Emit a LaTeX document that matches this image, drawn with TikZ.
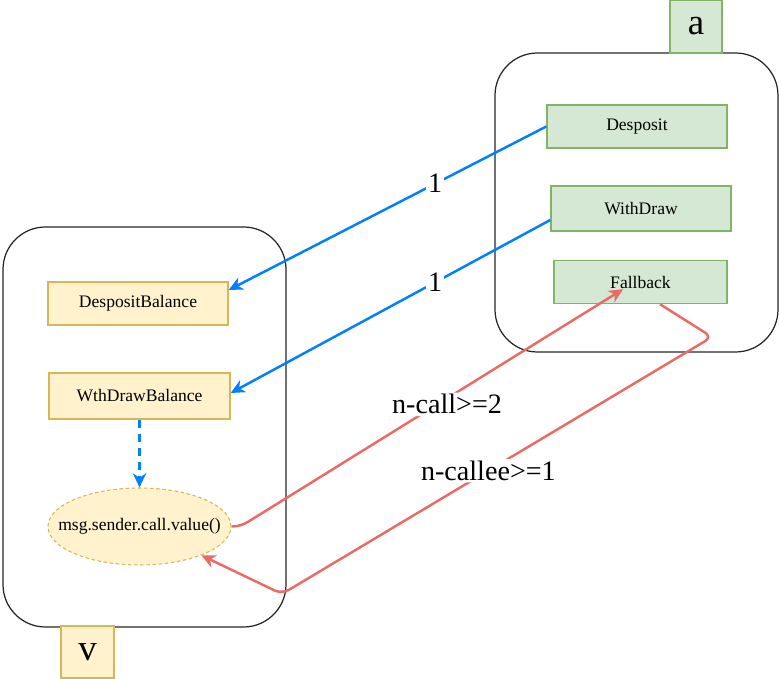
\documentclass[tikz,border=0pt]{standalone}
\usepackage{fontspec}
\setmainfont{Liberation Serif}
\usepackage{xcolor}
\usepackage{tikz}
\usetikzlibrary{shapes,arrows,arrows.meta,positioning,calc}
\definecolor{fngreen}{RGB}{213,232,212}
\definecolor{fngreenline}{RGB}{130,179,102}
\definecolor{varyellow}{RGB}{255,242,204}
\definecolor{varyellowline}{RGB}{214,182,86}
\definecolor{callblue}{RGB}{0,127,255}
\definecolor{callred}{RGB}{234,107,102}
\tikzset{
    contract/.style={rectangle, draw=black!85, line width=0.7pt, rounded corners=0.85cm, minimum width=5.66cm, inner sep=0pt},
    tag/.style={rectangle, draw, line width=0.9pt, minimum width=1.05cm, minimum height=1.05cm, inner sep=0pt, font=\fontsize{21}{23}\selectfont},
    fn/.style={rectangle, draw=fngreenline, fill=fngreen, line width=0.8pt, minimum width=3.6cm, minimum height=0.86cm, inner sep=0pt, font=\fontsize{10}{12}\selectfont},
    var/.style={rectangle, draw=varyellowline, fill=varyellow, line width=0.8pt, minimum width=3.6cm, minimum height=0.86cm, inner sep=0pt, font=\fontsize{10}{12}\selectfont},
    oval/.style={ellipse, draw=varyellowline, fill=varyellow, dash pattern=on 2pt off 1.5pt, line width=0.6pt, minimum width=3.66cm, minimum height=1.54cm, inner sep=0pt, font=\fontsize{10}{12}\selectfont},
    bline/.style={draw=callblue, line width=1.4pt, -{Stealth[length=8pt,width=7.5pt,inset=2.5pt]}},
    rline/.style={draw=callred, line width=1.4pt, -{Stealth[length=8pt,width=7.5pt,inset=2.5pt]}, rounded corners=0.16cm},
    lbl/.style={fill=white, inner sep=1pt, font=\fontsize{16}{18}\selectfont}
}
\begin{document}
\begin{tikzpicture}
    \useasboundingbox (0,0) rectangle (15.58,-13.58);
    % Contracts
    \node [contract, minimum height=5.98cm] (a) at (12.73,-4.05) {};
    \node [contract, minimum height=8.0cm] (v) at (2.89,-8.54) {};
    \node [tag, draw=fngreenline, fill=fngreen] (taga) at (13.92,-0.53) {a};
    \node [tag, draw=varyellowline, fill=varyellow] (tagv) at (1.75,-13.04) {v};

    % Functions of a
    \node [fn] (dep) at (12.74,-2.53) {Desposit};
    \node [fn, minimum height=0.9cm] (wd) at (12.82,-4.17) {WithDraw};
    \node [fn, minimum width=3.46cm] (fb) at (12.81,-5.64) {Fallback};

    % State of v
    \node [var] (dbal) at (2.76,-6.07) {DespositBalance};
    \node [var, minimum width=3.62cm, minimum height=0.92cm] (wbal) at (2.79,-7.92) {WthDrawBalance};
    \node [oval] (call) at (2.79,-10.53) {\makebox[0pt]{msg.sender.call.value()}};

    % Calls
    \path [bline] (dep.west) -- node [lbl, pos=0.35] {1} ([yshift=0.27cm]dbal.east);
    \path [bline] ([yshift=-0.23cm]wd.west) -- node [lbl, pos=0.36] {1} ([yshift=0.06cm]wbal.east);
    \path [bline, dash pattern=on 4.5pt off 3.5pt] (wbal.south) -- (call.north);

    % Reentrancy loop
    \coordinate (turn) at (14.24,-6.74);
    \coordinate (back) at (5.64,-11.88);
    \path [rline] (call.east) -- ++(0.18,0) -- node [lbl, pos=0.54, yshift=-0.12cm] {n-call>=2} ([xshift=-0.35cm,yshift=0.3cm]fb.south);
    \path [rline] ([xshift=0.39cm]fb.south) -- (turn) -- node [lbl, pos=0.52] {n-callee>=1} (back) -- (call.-25);
\end{tikzpicture}
\end{document}
